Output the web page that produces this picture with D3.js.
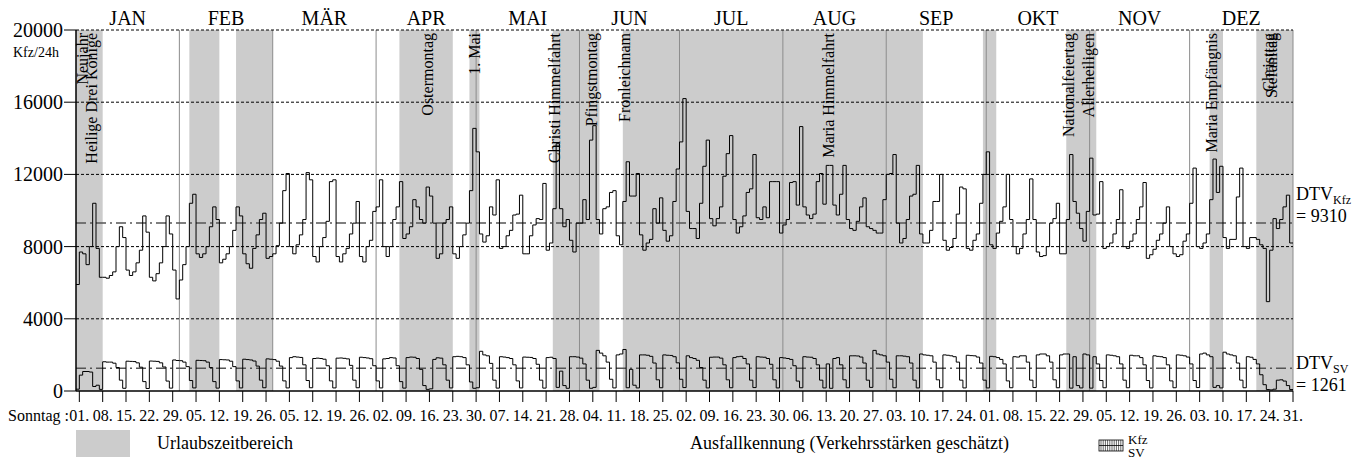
<!DOCTYPE html>
<html>
<head>
<meta charset="utf-8">
<script src="https://cdn.jsdelivr.net/npm/d3@7"></script>
<style>
  body { margin: 0; background: #fff; }
  svg text { font-family: "Liberation Serif", "Times New Roman", serif; fill: #000; }
</style>
</head>
<body>
<svg id="chart" width="1369" height="459"></svg>
<script>
// Tagesverkehr 2006 (1. Jan = Sonntag), Werte je Tag
const kfz = [
  5900, 7700, 7600, 7000, 8000, 10400, 7900,
  6300, 6300, 6250, 6400, 6600, 8000, 9100,
  8500, 6700, 6400, 6600, 7100, 7800, 9700,
  8800, 6300, 6100, 6500, 7100, 8000, 9700,
  8700, 6700, 5100, 6150, 7000, 8000, 10400,
  10900, 7600, 7400, 7600, 8000, 9100, 10200,
  9500, 7100, 7300, 7600, 8000, 8900, 10200,
  9700, 7600, 7050, 6800, 7900, 8650, 9500,
  9850, 7350, 7450, 7600, 8050, 9300, 11100,
  12050, 8000, 7600, 8100, 8650, 9500, 12100,
  11700, 7450, 7150, 8000, 8500, 9400, 11600,
  11700, 7450, 7150, 7600, 7900, 8700, 9300,
  10500, 7450, 7150, 8000, 8350, 9950, 10200,
  11700, 8000, 7450, 8000, 9500, 10200, 11600,
  8450, 8700, 9100, 10600, 10200, 9500, 9300,
  11300, 10800, 9300, 7350, 7600, 9300, 9500,
  10200, 7600, 7350, 8000, 8650, 9300, 11100,
  14550, 13250, 8700, 8250, 8600, 10200, 9750,
  11700, 7900, 8000, 8600, 8900, 9750, 9800,
  10850, 7600, 7600, 8600, 9200, 9550, 9500,
  11500, 7800, 8200, 10100, 13700, 10100, 9100,
  9500, 8350, 7700, 9300, 9300, 10600, 9500,
  13900, 14700, 9500, 8700, 10100, 10200, 11000,
  11100, 8600, 8100, 10500, 12700, 10800, 10800,
  12050, 8650, 7800, 8200, 8400, 10100, 9300,
  10700, 8900, 8300, 8600, 10500, 12300, 13800,
  16200, 9950, 9000, 9000, 8450, 10400, 12450,
  13900, 9550, 9150, 9550, 10200, 11900, 13150,
  14150, 9500, 8750, 9100, 9700, 11000, 11200,
  13100, 9600, 9500, 10200, 9600, 11600, 11600,
  11600, 8750, 9200, 9500, 11550, 11600, 10300,
  14650, 10200, 9750, 9550, 9800, 11600, 12050,
  10350, 12500, 12500, 10300, 9750, 10900, 12500,
  9500, 9000, 8900, 9400, 10200, 10700, 9100,
  9000, 8900, 8750, 8750, 10600, 12000, 12050,
  13100, 9300, 8200, 8450, 9500, 10800, 10900,
  12500, 8700, 8200, 8200, 8900, 10500, 10500,
  12000, 8350, 7800, 7950, 8450, 9800, 11300,
  11200, 7900, 7800, 8350, 8700, 10400, 12000,
  13250, 8100, 7900, 8750, 9400, 10200, 12000,
  9500, 8000, 7600, 7900, 8700, 9500, 11750,
  9500, 7700, 7450, 7500, 8000, 9300, 9550,
  10400, 7600, 7600, 9500, 13100, 10500, 9850,
  9000, 8300, 9950, 12900, 9750, 9800, 11600,
  7900, 8000, 8200, 8700, 9500, 11150, 8000,
  7900, 8300, 8700, 9500, 10200, 11550, 7350,
  7550, 7850, 8350, 8700, 9300, 10200, 8000,
  7600, 7450, 7550, 8300, 8700, 10400, 12350,
  8000, 7900, 8200, 8700, 10600, 12850, 11000,
  12450, 8500, 7900, 8400, 8400, 10750, 12350,
  8000, 7900, 8500, 8500, 8400, 8100, 7900,
  4950, 7800, 9550, 9000, 9500, 10200, 10850,
  8200
];

const sv = [
  100, 880, 1080, 1080, 1050, 250, 320,
  90, 1620, 1600, 1600, 1540, 1300, 600,
  150, 1650, 1640, 1630, 1560, 1320, 520,
  140, 1660, 1650, 1640, 1560, 1330, 550,
  160, 1720, 1690, 1680, 1600, 1350, 580,
  170, 1700, 1690, 1680, 1600, 1300, 520,
  160, 1740, 1730, 1720, 1650, 1350, 560,
  170, 1760, 1740, 1720, 1660, 1380, 600,
  180, 1780, 1760, 1740, 1650, 1380, 560,
  170, 1850, 1900, 1880, 1860, 1450, 580,
  180, 1800, 1820, 1800, 1760, 1400, 560,
  170, 1820, 1830, 1810, 1780, 1420, 600,
  180, 1870, 1850, 1830, 1790, 1400, 560,
  170, 1780, 1800, 1850, 1830, 1400, 520,
  160, 1850, 1880, 1870, 1800, 1200, 300,
  90, 120, 1750, 1840, 1820, 1450, 600,
  170, 1900, 1920, 1900, 1850, 1450, 500,
  150, 180, 2200, 2000, 1950, 1530, 600,
  160, 1900, 1880, 1850, 1800, 1450, 560,
  170, 1880, 1870, 1860, 1800, 1480, 600,
  160, 1850, 1870, 1800, 200, 1100, 300,
  150, 1900, 1900, 1880, 1820, 1500, 600,
  150, 200, 2250, 2100, 1950, 1600, 650,
  170, 2000, 2050, 2300, 180, 1200, 320,
  170, 2000, 2000, 1980, 1920, 1550, 620,
  180, 2000, 1980, 1970, 1900, 1560, 650,
  190, 1950, 1850, 1800, 1700, 1300, 600,
  170, 1870, 1880, 1880, 1820, 1450, 620,
  180, 1850, 1900, 1920, 1800, 1500, 600,
  190, 1900, 1880, 1870, 1800, 1480, 620,
  170, 1850, 1830, 1800, 1750, 1400, 550,
  180, 1900, 1880, 1870, 1800, 1450, 600,
  170, 1500, 150, 1800, 1850, 1450, 620,
  180, 1950, 1950, 1940, 1880, 1550, 600,
  200, 2250, 2050, 2000, 1950, 1600, 650,
  180, 1950, 1950, 1930, 1900, 1550, 600,
  170, 2050, 2000, 1980, 1950, 1600, 620,
  180, 2000, 1980, 1950, 1900, 1600, 600,
  170, 1980, 1960, 1950, 1880, 1550, 600,
  170, 1920, 1900, 1850, 1750, 1500, 560,
  180, 1900, 1880, 1950, 1950, 1600, 600,
  190, 2000, 2050, 2050, 1950, 1600, 620,
  180, 2000, 2050, 2050, 160, 1900, 300,
  170, 2050, 2000, 160, 1900, 1500, 580,
  180, 2000, 1980, 1950, 1900, 1500, 600,
  180, 1980, 1950, 1950, 1850, 1450, 580,
  170, 1950, 1920, 1900, 1850, 1450, 560,
  180, 2000, 1980, 1950, 1880, 1500, 580,
  190, 2050, 2100, 2000, 1900, 200, 300,
  170, 2150, 2050, 2000, 1950, 1550, 600,
  180, 1900, 1870, 1750, 1500, 900, 350,
  80, 60, 100, 600, 620, 550, 300,
  80
];

const dtvKfz = 9310;
const dtvSv = 1261;

const months = ['JAN', 'FEB', 'MÄR', 'APR', 'MAI', 'JUN', 'JUL', 'AUG', 'SEP', 'OKT', 'NOV', 'DEZ'];
const yTicks = [0, 4000, 8000, 12000, 16000, 20000];

// Urlaubszeitbereiche: [erster Tag, Tag nach Ende], Tagesindex ab 1. Jan
const ferien = [[0, 8], [34, 43], [48, 59], [97, 113], [118, 121], [143, 157],
                [164, 254], [272, 276], [297, 306], [340, 344], [354, 365]];

const feiertage = ['Neujahr', 'Heilige Drei Könige', 'Ostermontag', '1. Mai', 'Christi Himmelfahrt',
                   'Pfingstmontag', 'Fronleichnam', 'Maria Himmelfahrt', 'Nationalfeiertag',
                   'Allerheiligen', 'Maria Empfängnis', 'Christtag', 'Stefanitag'];
const feiertagTage = [0, 5, 106, 120, 144, 155, 165, 226, 298, 304, 341, 358, 359];

const year0 = new Date(2006, 0, 1);
const dayIndex = date => d3.timeDay.count(year0, date);

const svg = d3.select('#chart');
const plot = { left: 76, right: 1293, top: 30, bottom: 391 };

const x = d3.scaleLinear().domain([0, 365]).range([plot.left, plot.right]);
const y = d3.scaleLinear().domain([0, 20000]).range([plot.bottom, plot.top]);

// Ferien-Schattierung
svg.append('g')
  .selectAll('rect')
  .data(ferien)
  .join('rect')
  .attr('x', d => x(d[0]))
  .attr('y', plot.top)
  .attr('width', d => x(d[1]) - x(d[0]))
  .attr('height', plot.bottom - plot.top)
  .attr('fill', '#cccccc');

// Monatsgrenzen
const monthStarts = d3.timeMonth.range(new Date(2006, 1, 1), new Date(2007, 0, 2)).map(dayIndex);
svg.append('g')
  .selectAll('line')
  .data(monthStarts)
  .join('line')
  .attr('x1', d => x(d)).attr('x2', d => x(d))
  .attr('y1', plot.top).attr('y2', plot.bottom)
  .attr('stroke', '#8c8c8c')
  .attr('stroke-width', 1);

// Gitterlinien
svg.append('g')
  .selectAll('line')
  .data(yTicks.filter(v => v > 0))
  .join('line')
  .attr('x1', plot.left).attr('x2', plot.right)
  .attr('y1', d => y(d)).attr('y2', d => y(d))
  .attr('stroke', '#000')
  .attr('stroke-width', 1)
  .attr('stroke-dasharray', '3,2');

// Monatsnamen
const monthAll = d3.timeMonth.range(year0, new Date(2007, 0, 2)).map(dayIndex);
svg.append('g')
  .selectAll('text')
  .data(months)
  .join('text')
  .attr('x', (d, i) => x((monthAll[i] + monthAll[i + 1]) / 2))
  .attr('y', 25)
  .attr('text-anchor', 'middle')
  .attr('font-size', 20)
  .text(d => d);

// DTV Linien
[dtvKfz, dtvSv].forEach(v => {
  svg.append('line')
    .attr('x1', plot.left).attr('x2', plot.right)
    .attr('y1', y(v)).attr('y2', y(v))
    .attr('stroke', '#555')
    .attr('stroke-width', 1.5)
    .attr('stroke-dasharray', '10,4,2,4');
});

// Tageswerte als Treppenlinie
const stepLine = d3.line()
  .x(d => x(d[0]))
  .y(d => y(d[1]))
  .curve(d3.curveStepAfter);

[kfz, sv].forEach(series => {
  const pts = series.map((v, i) => [i, v]);
  pts.push([series.length, series[series.length - 1]]);
  svg.append('path')
    .datum(pts)
    .attr('d', stepLine)
    .attr('fill', 'none')
    .attr('stroke', '#000')
    .attr('stroke-width', 1);
});

// Feiertagsbeschriftungen (senkrecht)
svg.append('g')
  .selectAll('text')
  .data(feiertage)
  .join('text')
  .attr('transform', (d, i) => {
    const bx = Math.max(x(feiertagTage[i] + 1.2), plot.left + 12);
    return `translate(${bx},33) rotate(-90)`;
  })
  .attr('text-anchor', 'end')
  .attr('font-size', 16)
  .text(d => d);

// Achsen
svg.append('line')
  .attr('x1', plot.left).attr('x2', plot.left)
  .attr('y1', plot.top).attr('y2', plot.bottom)
  .attr('stroke', '#000').attr('stroke-width', 1.5);
svg.append('line')
  .attr('x1', plot.left).attr('x2', plot.right)
  .attr('y1', plot.bottom).attr('y2', plot.bottom)
  .attr('stroke', '#000').attr('stroke-width', 1.5);

// y-Achse
const yAxis = svg.append('g');
yAxis.selectAll('line')
  .data(yTicks)
  .join('line')
  .attr('x1', plot.left - 12).attr('x2', plot.left)
  .attr('y1', d => y(d)).attr('y2', d => y(d))
  .attr('stroke', '#000');
yAxis.selectAll('text')
  .data(yTicks)
  .join('text')
  .attr('x', plot.left - 13)
  .attr('y', d => y(d) + 7)
  .attr('text-anchor', 'end')
  .attr('font-size', 20)
  .text(d => d);
svg.append('text')
  .attr('x', 13).attr('y', 57)
  .attr('font-size', 14)
  .text('Kfz/24h');

// x-Achse: Sonntage
const sundays = d3.timeSunday.range(year0, new Date(2007, 0, 1));
const xAxis = svg.append('g');
xAxis.selectAll('line')
  .data(sundays)
  .join('line')
  .attr('x1', d => x(dayIndex(d) + 1)).attr('x2', d => x(dayIndex(d) + 1))
  .attr('y1', plot.bottom).attr('y2', plot.bottom + 11)
  .attr('stroke', '#000');
xAxis.selectAll('text')
  .data(sundays)
  .join('text')
  .attr('x', d => x(dayIndex(d) + 1))
  .attr('y', 421)
  .attr('text-anchor', 'middle')
  .attr('font-size', 16)
  .text(d => d3.timeFormat('%d.')(d));
svg.append('text')
  .attr('x', 69).attr('y', 421)
  .attr('text-anchor', 'end')
  .attr('font-size', 16)
  .text('Sonntag :');

// DTV Beschriftung rechts
function dtvLabel(sub, value, yTop) {
  const t = svg.append('text').attr('x', 1296).attr('y', yTop).attr('font-size', 18);
  t.append('tspan').text('DTV');
  t.append('tspan').attr('font-size', 12).attr('dy', 4).text(sub);
  svg.append('text').attr('x', 1296).attr('y', yTop + 22).attr('font-size', 18).text('= ' + value);
}
dtvLabel('Kfz', dtvKfz, 200);
dtvLabel('SV', dtvSv, 369);

// Legende
svg.append('rect')
  .attr('x', 76).attr('y', 430).attr('width', 54).attr('height', 27)
  .attr('fill', '#cccccc');
svg.append('text')
  .attr('x', 157).attr('y', 449)
  .attr('font-size', 18)
  .text('Urlaubszeitbereich');
svg.append('text')
  .attr('x', 690).attr('y', 449)
  .attr('font-size', 18)
  .text('Ausfallkennung (Verkehrsstärken geschätzt)');

const hatch = svg.append('g');
hatch.append('rect')
  .attr('x', 1099).attr('y', 440).attr('width', 24).attr('height', 11)
  .attr('fill', 'none').attr('stroke', '#000').attr('stroke-width', 0.8);
hatch.append('line')
  .attr('x1', 1099).attr('x2', 1123).attr('y1', 445.5).attr('y2', 445.5)
  .attr('stroke', '#000').attr('stroke-width', 0.8);
hatch.selectAll('line.v')
  .data(d3.range(1101, 1123, 2.2))
  .join('line')
  .attr('class', 'v')
  .attr('x1', d => d).attr('x2', d => d)
  .attr('y1', 440).attr('y2', 451)
  .attr('stroke', '#000').attr('stroke-width', 0.6);
svg.append('text').attr('x', 1128).attr('y', 444).attr('font-size', 13).text('Kfz');
svg.append('text').attr('x', 1128).attr('y', 457).attr('font-size', 13).text('SV');
</script>
</body>
</html>
